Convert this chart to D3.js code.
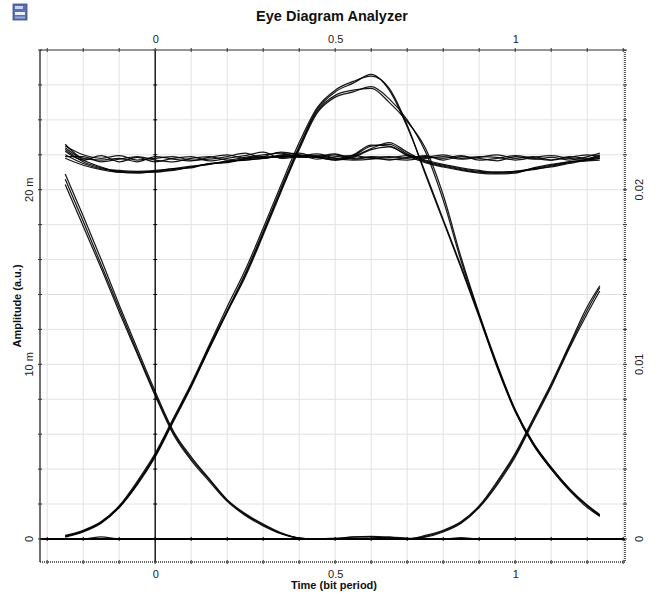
<!DOCTYPE html>
<html><head><meta charset="utf-8">
<script src="https://cdn.jsdelivr.net/npm/d3@7"></script>
<style>html,body{margin:0;padding:0;background:#fff;}svg{display:block;font-family:"Liberation Sans",Arial,sans-serif;}</style>
</head><body>
<svg id="c" width="660" height="596"></svg>
<script>
// ---- data (amplitudes in milli a.u.) ----
const timeBits = [-0.25,-0.20,-0.15,-0.10,-0.05,0.00,0.05,0.10,0.15,0.20,0.25,0.30,0.35,0.40,0.45,0.50,0.55,0.60,0.65,0.70,0.75,0.80,0.85,0.90,0.95,1.00,1.05,1.10,1.15,1.20,1.235];

const highDense1 = [22.3,21.6,21.25,21.05,21.0,21.0,21.15,21.3,21.5,21.6,21.75,21.85,21.9,21.95,21.9,21.75,21.95,22.5,22.6,22.05,21.6,21.35,21.15,21.0,20.95,21.0,21.2,21.4,21.6,21.7,21.8];
const highDense2 = [22.0,21.5,21.2,21.1,21.05,21.1,21.2,21.35,21.45,21.65,21.7,21.8,21.95,22.0,21.85,21.7,21.9,22.35,22.7,22.15,21.65,21.4,21.2,21.05,21.0,21.05,21.15,21.35,21.55,21.75,21.85];
const highDense3 = [22.4,21.7,21.3,21.0,20.95,21.05,21.2,21.25,21.5,21.55,21.8,21.9,21.85,21.95,21.95,21.8,22.0,22.55,22.5,21.95,21.55,21.3,21.1,20.95,20.9,20.95,21.25,21.45,21.6,21.65,21.7];
const highDense4 = [21.8,21.4,21.15,21.0,21.0,21.05,21.1,21.3,21.45,21.6,21.7,21.8,21.9,21.9,21.85,21.7,21.85,22.3,22.45,22.0,21.7,21.45,21.25,21.1,21.0,21.05,21.2,21.3,21.5,21.7,21.8];
const highLight1 = [22.5,22.0,21.8,21.95,21.7,21.8,21.9,21.7,21.75,21.9,22.1,21.8,22.0,22.1,21.85,22.0,21.8,21.9,21.85,21.95,21.8,21.9,21.75,21.85,22.0,21.8,21.9,21.7,21.85,22.0,21.9];
const highLight2 = [22.2,21.7,21.95,21.6,21.85,21.6,21.8,21.9,21.65,21.8,21.95,22.15,21.8,21.9,22.05,21.8,21.7,21.75,21.9,21.8,21.95,21.7,21.9,21.8,21.65,21.9,21.75,21.85,21.7,21.9,22.1];
const highLight3 = [21.9,21.9,21.6,21.75,21.9,21.7,21.6,21.8,21.9,21.7,21.85,22.0,22.1,21.85,21.9,22.05,21.75,21.85,21.7,21.85,21.9,21.8,21.95,21.7,21.8,21.95,21.8,21.7,21.9,21.8,22.0];
const highLight4 = [22.6,21.8,21.7,21.8,21.6,21.9,21.75,21.65,21.85,22.0,21.8,21.9,22.15,22.0,21.75,21.9,21.95,21.8,21.75,21.7,21.85,22.0,21.8,21.9,21.85,21.7,21.85,21.95,21.8,21.75,21.95];

const pulseA1 = [0.15,0.45,0.95,1.85,3.2,4.8,6.8,8.8,11.0,13.1,15.2,17.6,20.1,22.5,24.6,25.6,26.1,26.6,25.7,23.6,21.0,18.3,15.6,12.8,9.9,7.4,5.5,4.1,2.9,1.9,1.35];
const pulseA2 = [0.2,0.5,1.0,1.9,3.3,4.9,6.9,8.9,11.1,13.3,15.4,17.8,20.3,22.7,24.7,25.7,26.2,26.5,25.8,23.7,20.9,18.2,15.5,12.7,9.8,7.3,5.4,4.0,2.8,1.8,1.3];
const pulseB1 = [0.15,0.45,0.95,1.8,3.15,4.75,6.75,8.75,10.9,13.0,15.1,17.5,20.0,22.4,24.5,25.4,25.7,25.8,25.0,23.9,22.4,19.7,16.1,12.9,10.0,7.4,5.5,4.1,2.9,1.95,1.4];
const pulseB2 = [0.1,0.4,0.9,1.8,3.1,4.7,6.7,8.7,10.9,13.0,15.0,17.4,19.9,22.3,24.4,25.3,25.6,25.9,25.2,24.0,22.2,19.4,15.9,12.8,9.9,7.3,5.4,4.0,2.8,1.9,1.3];

const fall1 = [20.6,18.2,15.7,13.2,10.7,8.3,6.1,4.6,3.4,2.2,1.4,0.8,0.3,0.05,0,0,0,0.05,0.1,0.05,0,0,0,0,0,0,0,0,0,0,0];
const fall2 = [20.3,17.9,15.5,13.0,10.6,8.2,6.0,4.5,3.3,2.15,1.35,0.75,0.3,0.05,0,0,0,0,0,0,0,0,0,0,0,0,0,0,0,0,0];
const fall3 = [20.9,18.5,16.0,13.4,10.9,8.45,6.2,4.7,3.45,2.25,1.45,0.85,0.35,0.05,0,0,0,0,0,0,0,0,0,0,0,0,0,0,0,0,0];

const rise1 = [0,0,0,0,0,0,0,0,0,0,0,0,0,0,0,0,0,0,0,0,0.15,0.45,0.95,1.85,3.2,4.8,6.8,8.8,11.0,13.1,14.4];
const rise2 = [0,0,0,0,0,0,0,0,0,0,0,0,0,0,0,0,0,0,0,0,0.2,0.5,1.0,1.9,3.3,4.9,6.9,8.9,11.1,13.3,14.5];
const rise3 = [0,0,0,0,0,0,0,0,0,0,0,0,0,0,0,0,0,0,0,0,0.1,0.4,0.9,1.8,3.1,4.7,6.7,8.7,10.9,12.9,14.2];

const zero1 = [0,0,0.12,0,0,0,0,0,0,0,0,0,0,0,0,0,0.12,0.15,0.1,0,0,0,0.08,0,0,0,0,0,0,0,0];
const zero2 = [0,0,0,0,0,0,0,0,0,0,0,0,0,0,0,0.05,0.1,0.12,0.05,0,0,0,0,0,0,0,0,0,0,0,0];

const traces = [highDense1,highDense2,highDense3,highDense4,highLight1,highLight2,highLight3,highLight4,
  pulseA1,pulseA2,pulseB1,pulseB2,fall1,fall2,fall3,rise1,rise2,rise3,zero1,zero2];

const xTickLabels = [0, 0.5, 1];
const yLeftTicks = [0, 10, 20];
const yLeftLabels = ["0", "10 m", "20 m"];
const yRightTicks = [0, 0.01, 0.02];
const yRightLabels = ["0", "0.01", "0.02"];

// ---- layout ----
const L = 40, R = 625, T = 50, B = 562;
const svg = d3.select("#c");
const x = d3.scaleLinear().domain([-0.32, 1.305]).range([L, R]);
const y = d3.scaleLinear().domain([-1.32, 28.0]).range([B, T]);
const yR = d3.scaleLinear().domain([-0.00132, 0.028]).range([B, T]);

const xGrid = d3.range(-3, 14).map(i => i / 10);
const yGrid = d3.range(0, 15).map(i => i * 2);

// grid
svg.append("g").selectAll("line").data(xGrid).join("line")
  .attr("x1", d => x(d)).attr("x2", d => x(d)).attr("y1", T).attr("y2", B)
  .attr("stroke", "#e2e2e2").attr("stroke-width", 1);
svg.append("g").selectAll("line").data(yGrid).join("line")
  .attr("x1", L).attr("x2", R).attr("y1", d => y(d)).attr("y2", d => y(d))
  .attr("stroke", "#e2e2e2").attr("stroke-width", 1);

// zero axes
svg.append("line").attr("x1", x(0)).attr("x2", x(0)).attr("y1", T).attr("y2", B)
  .attr("stroke", "#000").attr("stroke-width", 1.3);
svg.append("line").attr("x1", L).attr("x2", R).attr("y1", y(0)).attr("y2", y(0))
  .attr("stroke", "#000").attr("stroke-width", 2);

// small ticks on zero axes
svg.append("g").selectAll("line").data(yGrid).join("line")
  .attr("x1", x(0) - 2).attr("x2", x(0) + 2).attr("y1", d => y(d)).attr("y2", d => y(d))
  .attr("stroke", "#000").attr("stroke-width", 1);
svg.append("g").selectAll("line").data(xGrid).join("line")
  .attr("x1", d => x(d)).attr("x2", d => x(d)).attr("y1", y(0) - 2).attr("y2", y(0) + 2)
  .attr("stroke", "#000").attr("stroke-width", 1);

// traces
const line = d3.line().x(d => x(d[0])).y(d => y(d[1])).curve(d3.curveMonotoneX);
svg.append("g").selectAll("path").data(traces).join("path")
  .attr("d", v => line(v.map((a, i) => [timeBits[i], a])))
  .attr("fill", "none").attr("stroke", "#000").attr("stroke-width", 1.25).attr("stroke-opacity", 0.9);

// frame
svg.append("line").attr("x1", L).attr("x2", R).attr("y1", T).attr("y2", T).attr("stroke", "#777").attr("stroke-width", 1.3);
svg.append("line").attr("x1", L).attr("x2", L).attr("y1", T).attr("y2", B).attr("stroke", "#222").attr("stroke-width", 1.3);
svg.append("line").attr("x1", R).attr("x2", R).attr("y1", T).attr("y2", B).attr("stroke", "#333").attr("stroke-width", 1.6).attr("stroke-dasharray", "1,1");
svg.append("line").attr("x1", L).attr("x2", R).attr("y1", B).attr("y2", B).attr("stroke", "#333").attr("stroke-width", 1.6).attr("stroke-dasharray", "1,1");

// frame ticks
[T, B].forEach(yy => svg.append("g").selectAll("line").data(xGrid).join("line")
  .attr("x1", d => x(d)).attr("x2", d => x(d)).attr("y1", yy - 2).attr("y2", yy + 2)
  .attr("stroke", "#333").attr("stroke-width", 1));
[L, R].forEach(xx => svg.append("g").selectAll("line").data(yGrid).join("line")
  .attr("x1", xx - 2).attr("x2", xx + 2).attr("y1", d => y(d)).attr("y2", d => y(d))
  .attr("stroke", "#333").attr("stroke-width", 1));

// axis labels via d3 axes
const fmtX = d => String(d);
const ax = (g, axis) => { g.call(axis); g.select(".domain").remove(); g.selectAll("line").remove();
  g.attr("color", "#222");
  g.selectAll("text").attr("fill", "#222").attr("font-size", 11).attr("font-family", "'Liberation Sans',Arial,sans-serif"); };
svg.append("g").attr("transform", `translate(0,${T - 6})`)
  .call(g => ax(g, d3.axisTop(x).tickValues(xTickLabels).tickSize(0).tickPadding(1).tickFormat(fmtX)));
svg.append("g").attr("transform", `translate(0,${B + 7})`)
  .call(g => ax(g, d3.axisBottom(x).tickValues(xTickLabels).tickSize(0).tickPadding(1).tickFormat(fmtX)));

svg.append("g").selectAll("text").data(yLeftTicks).join("text")
  .attr("transform", (d) => `translate(33,${y(d)}) rotate(-90)`)
  .attr("text-anchor", "middle").attr("font-size", 11).attr("fill", "#222")
  .text((d, i) => yLeftLabels[i]);
svg.append("g").selectAll("text").data(yRightTicks).join("text")
  .attr("transform", (d) => `translate(643,${yR(d)}) rotate(-90)`)
  .attr("text-anchor", "middle").attr("font-size", 11).attr("fill", "#222")
  .text((d, i) => yRightLabels[i]);

// titles
svg.append("text").attr("x", 332).attr("y", 21).attr("text-anchor", "middle")
  .attr("font-size", 14.5).attr("font-weight", "bold").attr("fill", "#111").text("Eye Diagram Analyzer");
svg.append("text").attr("x", 334).attr("y", 589).attr("text-anchor", "middle")
  .attr("font-size", 11).attr("font-weight", "bold").attr("fill", "#111").text("Time (bit period)");
svg.append("text").attr("transform", "translate(21,306) rotate(-90)").attr("text-anchor", "middle")
  .attr("font-size", 11).attr("font-weight", "bold").attr("fill", "#111").text("Amplitude (a.u.)");

// icon
const ic = svg.append("g").attr("transform", "translate(13,4)");
ic.append("rect").attr("width", 14).attr("height", 16).attr("fill", "#5b6fae").attr("stroke", "#3b4a80").attr("stroke-width", 0.8);
ic.append("rect").attr("x", 2).attr("y", 2).attr("width", 8).attr("height", 3).attr("fill", "#c8d2ee");
ic.append("rect").attr("x", 2).attr("y", 8).attr("width", 10).attr("height", 3).attr("fill", "#e8eefa");
ic.append("rect").attr("x", 2).attr("y", 12.5).attr("width", 10).attr("height", 2).attr("fill", "#9aa8d4");
</script>
</body></html>
